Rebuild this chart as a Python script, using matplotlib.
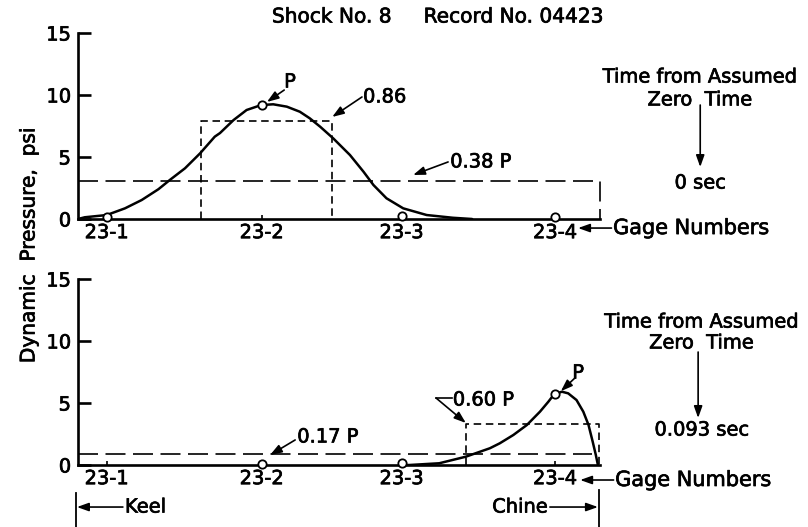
import matplotlib
matplotlib.use("Agg")
import matplotlib.pyplot as plt
import matplotlib.patheffects as pe
from matplotlib.text import Text

plt.rcParams['font.family'] = ['DejaVu Sans']

# Gage stations along the bottom (distance units from keel)
gage_labels = ["23-1", "23-2", "23-3", "23-4"]
gage_x = [0.55, 3.52, 6.20, 9.14]

# --- Record at 0 sec ---
top_gage_p = [0.20, 9.19, 0.27, 0.15]
top_curve_x = [0.0, 0.13, 0.55, 0.90, 1.22, 1.54, 1.76, 2.05, 2.34, 2.62, 2.72, 2.98, 3.23,
               3.51, 3.74, 4.00, 4.25, 4.44, 4.64, 4.89, 5.21, 5.47, 5.66, 5.91, 6.23,
               6.68, 7.18, 7.55]
top_curve_p = [0.0, 0.14, 0.32, 0.86, 1.53, 2.40, 3.15, 4.09, 5.30, 6.64, 6.93, 7.98, 8.79,
               9.19, 9.25, 9.06, 8.65, 8.12, 7.44, 6.50, 5.16, 3.81, 2.74, 1.67, 0.86,
               0.32, 0.10, 0.0]
top_rect_x = [2.35, 4.86]
top_rect_p = 7.9
top_level_p = 3.05
top_level_x = [0.0, 10.0]

# --- Record at 0.093 sec ---
bot_gage_p = [None, 0.10, 0.15, 5.72]
bot_curve_x = [6.20, 6.35, 6.92, 7.43, 7.89, 8.08, 8.34, 8.60, 8.85, 9.01, 9.12, 9.27,
               9.39, 9.55, 9.68, 9.78, 9.86, 9.92, 9.96]
bot_curve_p = [0.0, 0.0, 0.14, 0.67, 1.35, 1.75, 2.42, 3.23, 4.30, 5.10, 5.70, 5.91,
               5.78, 5.24, 4.30, 3.23, 1.88, 0.81, 0.0]
bot_rect_x = [7.43, 9.98]
bot_rect_p = 3.29
bot_level_p = 0.9
bot_level_x = [0.0, 9.85]

W, H = 808, 527
fig = plt.figure(figsize=(W / 100, H / 100), dpi=100)

FS = 14
lw_axis = 1.9
lw_curve = 1.8
lw_dash = 1.2


def make_axes(bottom_px):
    ax = fig.add_axes([78 / W, 1 - bottom_px / H, 522 / W, 186 / H])
    ax.set_xlim(0, 10)
    ax.set_ylim(0, 15)
    for s in ("top", "right"):
        ax.spines[s].set_visible(False)
    for s in ("left", "bottom"):
        ax.spines[s].set_linewidth(lw_axis)
    ax.set_yticks([0, 5, 10, 15])
    ax.tick_params(axis="y", direction="in", length=9, width=lw_axis, pad=5, labelsize=FS)
    ax.set_xticks(gage_x, gage_labels)
    ax.tick_params(axis="x", direction="in", length=3, width=1.2, pad=3, labelsize=FS)
    return ax


def arrow(ax, tail, head, lw=1.2):
    ax.annotate("", xy=head, xytext=tail, xycoords="data", textcoords="data",
                annotation_clip=False,
                arrowprops=dict(arrowstyle="-|>,head_length=0.7,head_width=0.25",
                                color="black", lw=lw, shrinkA=0, shrinkB=0))


def side_notes(ax, cx, y_lines, arrow_x, arrow_y, time_text, time_y, gage_y, gage_left, gage_tip):
    ax.text(cx, y_lines[0], "Time from Assumed", ha="center", va="center", fontsize=FS, clip_on=False)
    ax.text(cx, y_lines[1], "Zero  Time", ha="center", va="center", fontsize=FS, clip_on=False)
    arrow(ax, (arrow_x, arrow_y[0]), (arrow_x, arrow_y[1]))
    ax.text(cx, time_y, time_text, ha="center", va="center", fontsize=FS, clip_on=False)
    ax.text(gage_left, gage_y, "Gage Numbers", ha="left", va="center", fontsize=FS + 1,
            clip_on=False)
    arrow(ax, (gage_left - 0.03, gage_y), (gage_tip, gage_y))


def curve(ax, xs, ps):
    ax.plot(xs, ps, color="black", lw=lw_curve, zorder=3, solid_joinstyle="round",
            solid_capstyle="round")


# ---------------- upper panel ----------------
ax1 = make_axes(219)
curve(ax1, top_curve_x, top_curve_p)
ax1.plot([top_rect_x[0], top_rect_x[0], top_rect_x[1], top_rect_x[1]],
         [0, top_rect_p, top_rect_p, 0], color="black", lw=lw_dash, dashes=[4.5, 2.8])
ax1.plot([top_level_x[0], top_level_x[1], top_level_x[1]],
         [top_level_p, top_level_p, 0], color="black", lw=lw_dash, dashes=[12, 4.5],
         clip_on=False)
ax1.plot(gage_x, top_gage_p, linestyle="none", marker="o", ms=6, mfc="white",
         mec="black", mew=1.3, zorder=4, clip_on=False)

ax1.text(4.06, 11.05, "P", ha="center", va="center", fontsize=FS)
arrow(ax1, (3.95, 10.4), (3.62, 9.44))
ax1.text(5.46, 9.84, "0.86", ha="left", va="center", fontsize=FS)
arrow(ax1, (5.44, 9.84), (4.87, 8.23))
ax1.text(7.13, 4.6, "0.38 P", ha="left", va="center", fontsize=FS)
arrow(ax1, (7.09, 4.6), (6.42, 3.55))

side_notes(ax1, 11.92, (11.45, 9.6), 11.92, (9.19, 4.19), "0 sec", 2.9, -0.73, 10.25, 9.58)

# ---------------- lower panel ----------------
ax2 = make_axes(465)
curve(ax2, bot_curve_x, bot_curve_p)
ax2.plot([bot_rect_x[0], bot_rect_x[0], bot_rect_x[1], bot_rect_x[1]],
         [0, bot_rect_p, bot_rect_p, 0], color="black", lw=lw_dash, dashes=[4.5, 2.8],
         clip_on=False)
ax2.plot(bot_level_x, [bot_level_p, bot_level_p], color="black", lw=lw_dash, dashes=[12, 4.5])
bx = [x for x, p in zip(gage_x, bot_gage_p) if p is not None]
bp = [p for p in bot_gage_p if p is not None]
ax2.plot(bx, bp, linestyle="none", marker="o", ms=6, mfc="white",
         mec="black", mew=1.3, zorder=4, clip_on=False)

ax2.text(9.58, 7.42, "P", ha="center", va="center", fontsize=FS)
arrow(ax2, (9.52, 7.02), (9.25, 5.95))
ax2.text(7.18, 5.24, "0.60 P", ha="left", va="center", fontsize=FS)
ax2.plot([7.16, 6.86], [5.40, 5.40], color="black", lw=1.2, clip_on=False)
arrow(ax2, (6.86, 5.40), (7.43, 3.39))
ax2.text(4.20, 2.26, "0.17 P", ha="left", va="center", fontsize=FS)
arrow(ax2, (4.16, 2.02), (3.68, 0.81))

side_notes(ax2, 11.95, (11.53, 9.84), 11.88, (9.11, 3.79), "0.093 sec", 2.82, -1.21, 10.29, 9.62)

# keel / chine markers beneath the lower panel
ax2.plot([-0.04, -0.04], [-2.26, -5.0], color="black", lw=1.3, clip_on=False)
arrow(ax2, (0.86, -3.39), (-0.02, -3.39))
ax2.text(0.90, -3.39, "Keel", ha="left", va="center", fontsize=FS, clip_on=False)
ax2.plot([9.98, 9.98], [-2.0, -5.0], color="black", lw=1.3, clip_on=False)
arrow(ax2, (9.04, -3.39), (9.96, -3.39))
ax2.text(9.0, -3.39, "Chine", ha="right", va="center", fontsize=FS, clip_on=False)

# shared labels
fig.text(29 / W, 1 - 245 / H, "Dynamic  Pressure,  psi", rotation=90, ha="center",
         va="center", fontsize=FS + 0.5)
fig.text(438 / W, 1 - 17 / H, "Shock No. 8     Record No. 04423", ha="center",
         va="center", fontsize=FS + 0.5)

# slightly heavier lettering for all text
for t in fig.findobj(Text):
    t.set_path_effects([pe.withStroke(linewidth=0.5, foreground="black")])

fig.savefig("out.png", dpi=100)
